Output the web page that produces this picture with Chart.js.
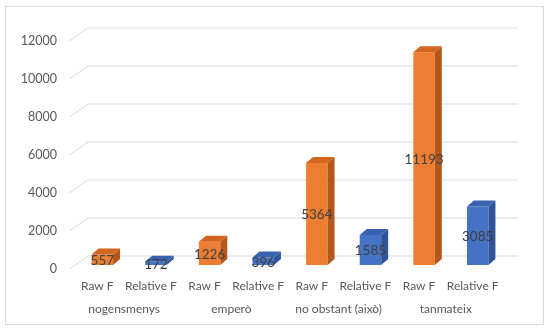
<!DOCTYPE html>
<html>
<head>
<meta charset="utf-8">
<script src="https://cdn.jsdelivr.net/npm/chart.js@4"></script>
<style>
  body { margin: 0; background: #fff; }
</style>
</head>
<body>
<canvas id="chart" width="550" height="331"></canvas>
<script>
const groups = ["nogensmenys", "emperò", "no obstant (això)", "tanmateix"];
const seriesNames = ["Raw F", "Relative F"];
const rawF = [557, 1226, 5364, 11193];
const relativeF = [172, 396, 1585, 3085];
const yMax = 12000;
const yStep = 2000;

// interleave the two series into one row of bars
const labels = [];
const values = [];
const colors = [];
groups.forEach((g, i) => {
  labels.push(seriesNames[0], seriesNames[1]);
  values.push(rawF[i], relativeF[i]);
  colors.push("#ED7D31", "#4472C4");
});
const sideColors = { "#ED7D31": "#B5561B", "#4472C4": "#2F5597" };
const topColors = { "#ED7D31": "#D2661F", "#4472C4": "#3A62B0" };

const depthX = 7, depthY = -6;

const frame = {
  id: "frame",
  beforeDraw(chart) {
    const ctx = chart.ctx;
    ctx.save();
    ctx.strokeStyle = "#D9D9D9";
    ctx.lineWidth = 1;
    ctx.strokeRect(5.5, 6.5, 538, 318);
    ctx.restore();
  }
};

// 3d-looking gridlines: short diagonal then back wall line
const grid3d = {
  id: "grid3d",
  beforeDatasetsDraw(chart) {
    const { ctx, chartArea, scales } = chart;
    ctx.save();
    ctx.strokeStyle = "#D9D9D9";
    ctx.lineWidth = 1;
    for (let v = 0; v <= yMax; v += yStep) {
      const y = scales.y.getPixelForValue(v);
      ctx.beginPath();
      ctx.moveTo(chartArea.left - 6, y + 4);
      ctx.lineTo(chartArea.left + 12.5, y - 9);
      ctx.lineTo(chartArea.right + 13.5, y - 9);
      ctx.stroke();
    }
    ctx.restore();
  }
};

const bars3d = {
  id: "bars3d",
  afterDatasetsDraw(chart) {
    const ctx = chart.ctx;
    const meta = chart.getDatasetMeta(0);
    ctx.save();
    meta.data.forEach((bar, i) => {
      const { x, y, base, width } = bar.getProps(["x", "y", "base", "width"], true);
      const l = x - width / 2, r = x + width / 2;
      ctx.fillStyle = sideColors[colors[i]];
      ctx.beginPath();
      ctx.moveTo(r, y);
      ctx.lineTo(r + depthX, y + depthY);
      ctx.lineTo(r + depthX, base + depthY);
      ctx.lineTo(r, base);
      ctx.closePath();
      ctx.fill();
      ctx.fillStyle = topColors[colors[i]];
      ctx.beginPath();
      ctx.moveTo(l, y);
      ctx.lineTo(r, y);
      ctx.lineTo(r + depthX, y + depthY);
      ctx.lineTo(l + depthX, y + depthY);
      ctx.closePath();
      ctx.fill();
      // value label in the middle of the front face
      ctx.fillStyle = "#404040";
      ctx.font = "13.5px Lato";
      ctx.textAlign = "center";
      ctx.textBaseline = "middle";
      ctx.fillText(String(values[i]), x, (y + base) / 2 + 1);
    });
    ctx.restore();
  }
};

new Chart(document.getElementById("chart"), {
  type: "bar",
  data: {
    labels: labels,
    datasets: [{
      data: values,
      backgroundColor: colors,
      barPercentage: 0.4,
      categoryPercentage: 1
    }]
  },
  options: {
    responsive: false,
    animation: false,
    devicePixelRatio: 1,
    layout: { padding: { left: 0, top: 37, right: 45.5, bottom: 0 } },
    plugins: { legend: { display: false }, tooltip: { enabled: false } },
    scales: {
      x: {
        grid: { display: false, drawTicks: false },
        border: { display: false },
        ticks: { color: "#595959", font: { family: "Lato", size: 12 }, padding: 14, labelOffset: -5, maxRotation: 0, autoSkip: false },
        afterFit(s) { s.height = 30; }
      },
      x2: {
        type: "category",
        labels: groups,
        position: "bottom",
        offset: true,
        grid: { display: false, drawTicks: false },
        border: { display: false },
        ticks: { color: "#595959", font: { family: "Lato", size: 12 }, padding: 7, labelOffset: -5, maxRotation: 0, autoSkip: false },
        afterFit(s) { s.height = 36; }
      },
      y: {
        min: 0,
        max: yMax,
        grid: { display: false, drawTicks: false },
        border: { display: false },
        ticks: {
          stepSize: yStep, color: "#595959", font: { family: "Lato", size: 12.5 }, padding: 18.5, labelOffset: 4,
          callback: v => String(v)
        },
        afterFit(s) { s.width = 75.5; }
      }
    }
  },
  plugins: [frame, grid3d, bars3d]
});
</script>
</body>
</html>
